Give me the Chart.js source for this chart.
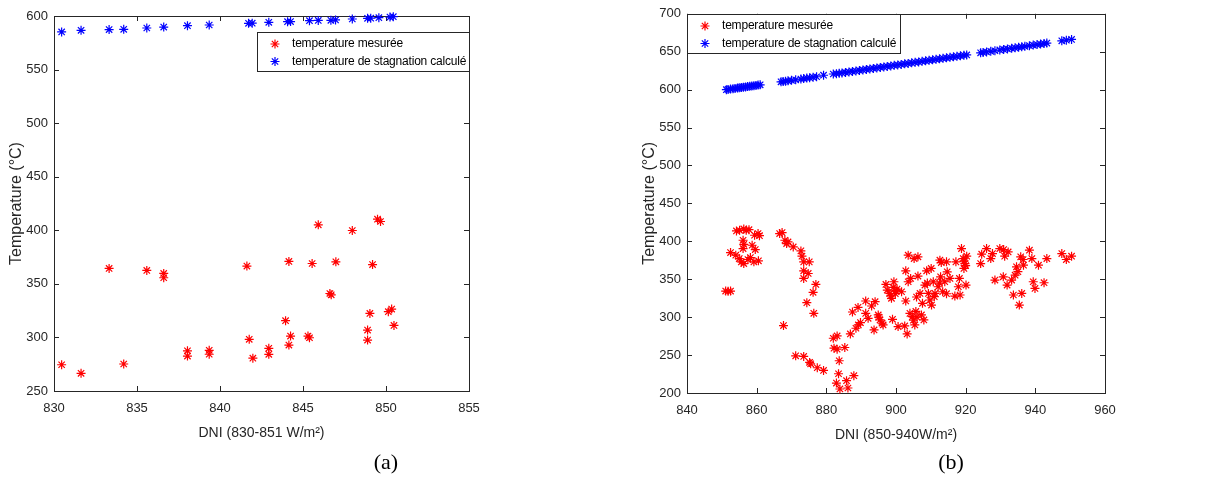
<!DOCTYPE html>
<html>
<head>
<meta charset="utf-8">
<script src="https://cdn.jsdelivr.net/npm/chart.js@4.4.1/dist/chart.umd.min.js"></script>
<style>
    body { margin: 0; background: #fff; width: 1206px; height: 504px; position: relative; overflow: hidden; }
    .panel { position: absolute; top: 0; }
    .caption { position: absolute; top: 449px; width: 60px; text-align: center; font-family: "Liberation Serif", "Times New Roman", serif; font-size: 22px; color: #000; }
</style>
</head>
<body>
<canvas id="chartA" class="panel" style="left:0px" width="600" height="450"></canvas>
<canvas id="chartB" class="panel" style="left:600px" width="606" height="450"></canvas>
<div class="caption" style="left:356px">(a)</div>
<div class="caption" style="left:921px">(b)</div>
<script>
// (a) DNI 830-851 : [DNI, temperature]
const measuredA = [
    [830.46, 274.5], [831.63, 266.5], [833.32, 364.4], [834.2, 275.2], [835.59, 362.5],
    [836.61, 359.7], [836.61, 355.7], [838.04, 287.5], [838.04, 282.6], [839.35, 288.0],
    [839.35, 284.3], [841.62, 366.6], [841.76, 298.2], [841.98, 280.6], [842.94, 289.8],
    [842.94, 284.2], [843.95, 315.6], [844.15, 370.9], [844.25, 301.3], [844.15, 292.9],
    [845.3, 301.3], [845.39, 299.7], [845.92, 405.1], [845.55, 369.0], [846.62, 341.0],
    [846.7, 339.8], [846.98, 370.6], [847.97, 399.8], [848.89, 306.9], [848.89, 297.5],
    [849.03, 322.4], [849.19, 368.0], [849.49, 410.4], [849.67, 408.2], [850.14, 324.0],
    [850.34, 326.5], [850.48, 311.2]
];
const stagnationA = [
    [830.46, 585.1], [831.63, 586.6], [833.32, 587.3], [834.2, 587.6], [835.59, 588.8],
    [836.61, 589.7], [838.04, 591.0], [839.35, 591.6], [841.72, 593.2], [841.94, 593.3],
    [842.94, 594.1], [844.07, 594.7], [844.25, 594.8], [845.39, 595.6], [845.92, 595.9],
    [846.68, 596.0], [846.96, 596.3], [847.97, 597.2], [848.89, 597.8], [849.08, 598.0],
    [849.57, 598.4], [850.24, 599.0], [850.44, 599.4]
];

// (b) DNI 850-940 : [DNI, temperature]
const measuredB = [
    [851.1, 334.4], [851.8, 334.0], [852.5, 334.4], [852.5, 385.2], [854.2, 413.7],
    [855.1, 414.5], [856.3, 416.3], [857.0, 414.5], [857.8, 415.4], [856.1, 401.4],
    [856.1, 390.4], [856.3, 396.0], [854.0, 381.7], [855.0, 377.3], [855.6, 372.9],
    [856.3, 370.7], [857.5, 376.0], [858.2, 378.6], [859.2, 372.9], [860.5, 374.3],
    [858.7, 394.8], [859.6, 389.1], [859.4, 408.0], [860.4, 410.2], [860.8, 407.5],
    [866.6, 410.2], [867.3, 411.5], [868.1, 401.4], [869.0, 399.2], [868.6, 397.0],
    [870.5, 392.6], [872.7, 387.4], [873.0, 380.4], [873.5, 372.9], [875.1, 372.9],
    [873.5, 361.1], [874.8, 357.6], [873.5, 351.1], [877.0, 343.2], [876.2, 332.7],
    [874.4, 319.1], [876.4, 305.1], [867.7, 288.9], [871.2, 249.0], [873.5, 248.2],
    [875.2, 240.3], [875.5, 238.5], [877.4, 233.3], [879.2, 229.8], [882.0, 272.2],
    [883.1, 275.3], [882.2, 259.1], [883.1, 257.8], [885.3, 260.0], [883.7, 242.5],
    [883.5, 225.4], [882.9, 213.1], [883.9, 205.3], [885.8, 216.2], [886.2, 206.6],
    [887.9, 222.8], [886.9, 277.9], [888.5, 285.4], [887.5, 306.8], [889.2, 289.8],
    [889.8, 292.8], [889.1, 312.9], [891.3, 321.3], [892.0, 298.5], [891.3, 305.0],
    [893.0, 314.7], [894.0, 320.4], [893.7, 283.2], [894.9, 302.9], [895.4, 296.3],
    [896.3, 289.8], [897.1, 343.2], [897.5, 335.7], [898.2, 331.3], [898.7, 324.8],
    [899.2, 339.2], [900.0, 334.9], [899.4, 346.7], [899.0, 297.2], [900.6, 287.6],
    [901.6, 333.5], [902.5, 288.4], [902.8, 361.1], [902.8, 321.3], [903.5, 381.7],
    [903.2, 277.9], [903.5, 346.7], [904.2, 351.1], [904.0, 305.0], [904.7, 300.7],
    [905.4, 289.8], [905.7, 307.6], [905.9, 326.6], [905.2, 377.3], [906.3, 379.5],
    [906.3, 354.2], [906.9, 331.3], [907.3, 302.9], [907.6, 318.2], [908.0, 296.3],
    [908.3, 342.3], [908.8, 361.1], [909.3, 331.3], [909.7, 322.6], [910.1, 364.2],
    [910.7, 346.7], [910.2, 316.0], [911.2, 331.3], [912.1, 340.1], [912.6, 375.1],
    [912.8, 353.2], [913.4, 333.5], [914.0, 346.7], [914.5, 372.9], [914.7, 359.8],
    [914.5, 330.9], [915.5, 351.1], [917.2, 372.9], [916.9, 327.8], [917.9, 340.1],
    [918.4, 329.2], [918.2, 351.1], [918.8, 390.4], [919.3, 377.3], [919.5, 364.2],
    [919.8, 370.7], [920.1, 342.3], [920.3, 380.4], [924.3, 370.7], [924.6, 383.0],
    [926.0, 390.4], [927.2, 377.3], [927.7, 383.9], [928.4, 348.9], [929.8, 390.4],
    [930.9, 389.1], [931.2, 380.4], [932.2, 386.0], [930.8, 353.2], [931.9, 342.3],
    [933.2, 348.9], [933.7, 329.2], [934.2, 355.4], [934.6, 366.4], [935.4, 316.0],
    [935.8, 379.5], [936.1, 331.3], [936.6, 368.5], [938.3, 388.3], [939.0, 377.3],
    [939.4, 346.7], [939.9, 337.9], [940.9, 368.5], [942.5, 345.4], [943.3, 377.3],
    [947.6, 383.9], [948.9, 376.0], [950.4, 380.4], [898.5, 328.0], [899.8, 331.0],
    [900.3, 337.0], [905.0, 296.0], [906.0, 300.0], [909.0, 345.0], [911.0, 327.0],
    [912.5, 345.0], [913.0, 372.0], [919.5, 374.0], [920.0, 368.0], [895.0, 300.0],
    [896.0, 292.0], [935.0, 360.0], [936.5, 376.0]
];
const stagnationB = [
    [851.3, 600.0], [851.8, 600.3], [852.5, 600.8], [853.2, 601.3], [853.8, 601.6],
    [854.5, 602.0], [855.0, 602.4], [855.6, 602.8], [856.2, 603.2], [856.8, 603.6],
    [857.4, 604.0], [858.0, 604.4], [858.6, 604.8], [859.2, 605.2], [859.8, 605.6],
    [860.4, 606.0], [861.0, 606.4],
    [867.0, 610.3], [867.6, 610.7], [868.3, 611.1], [869.0, 611.6], [870.0, 612.3],
    [871.2, 613.0], [872.7, 614.0], [873.5, 614.6], [874.4, 615.2], [875.2, 615.7],
    [876.2, 616.4], [877.2, 617.0], [879.2, 619.0],
    [882.0, 620.6], [882.9, 621.1], [883.7, 621.6], [884.5, 622.1], [885.5, 622.7],
    [886.5, 623.3], [887.5, 624.0], [888.5, 624.6], [889.5, 625.3], [890.5, 626.0],
    [891.5, 626.6], [892.5, 627.3], [893.5, 628.0], [894.5, 628.6], [895.5, 629.3],
    [896.5, 630.0], [897.5, 630.6], [898.5, 631.3], [899.5, 632.0], [900.5, 632.6],
    [901.5, 633.3], [902.5, 634.0], [903.5, 634.6], [904.5, 635.3], [905.5, 636.0],
    [906.5, 636.6], [907.5, 637.3], [908.5, 638.0], [909.5, 638.6], [910.5, 639.3],
    [911.5, 640.0], [912.5, 640.6], [913.5, 641.3], [914.5, 642.0], [915.5, 642.6],
    [916.5, 643.3], [917.5, 644.0], [918.5, 644.6], [919.5, 645.3], [920.3, 645.8],
    [924.3, 648.6], [925.0, 649.1], [926.0, 649.7], [927.2, 650.5], [928.4, 651.3],
    [929.8, 652.3], [930.9, 653.0], [932.0, 653.7], [933.2, 654.5], [934.2, 655.2],
    [935.2, 655.9], [936.1, 656.5], [937.0, 657.1], [938.3, 658.0], [939.4, 658.7],
    [940.5, 659.4], [941.5, 660.1], [942.5, 660.8], [943.3, 661.4], [947.6, 664.4],
    [948.9, 665.2], [950.4, 666.2]
];

const seriesLabels = ['temperature mesurée', 'temperature de stagnation calculé'];
const seriesColors = ['#ff0000', '#0000ff'];

const xTitleA = 'DNI (830-851 W/m²)';
const xTitleB = 'DNI (850-940W/m²)';
const yTitle = 'Temperature (°C)';

const axisColor = '#262626';
const tickFont = { family: 'Arial, "Liberation Sans", sans-serif', size: 13 };
const xTitleFont = { family: 'Arial, "Liberation Sans", sans-serif', size: 14 };
const yTitleFont = { family: 'Arial, "Liberation Sans", sans-serif', size: 16 };

// MATLAB style box: frame with inward ticks on all sides, plus boxed legend
const matlabBox =
{
    id: 'matlabBox',

    beforeDatasetsDraw(chart)
    {
        const { ctx, chartArea: { left, right, top, bottom }, scales: { x, y } } = chart;
        const len = 5;

        ctx.save();
        ctx.strokeStyle = axisColor;
        ctx.lineWidth = 1;
        ctx.strokeRect(Math.round(left) + 0.5, Math.round(top) + 0.5, Math.round(right - left), Math.round(bottom - top));

        ctx.beginPath();
        x.ticks.forEach(t =>
        {
            const px = Math.round(x.getPixelForValue(t.value)) + 0.5;
            ctx.moveTo(px, bottom); ctx.lineTo(px, bottom - len);
            ctx.moveTo(px, top); ctx.lineTo(px, top + len);
        });
        y.ticks.forEach(t =>
        {
            const py = Math.round(y.getPixelForValue(t.value)) + 0.5;
            ctx.moveTo(left, py); ctx.lineTo(left + len, py);
            ctx.moveTo(right, py); ctx.lineTo(right - len, py);
        });
        ctx.stroke();
        ctx.restore();
    },

    afterDraw(chart, args, opts)
    {
        const { ctx, chartArea } = chart;
        const w = opts.width, h = opts.height;
        const bx = opts.side === 'right' ? Math.round(chartArea.right) - w : Math.round(chartArea.left);
        const by = Math.round(chartArea.top) + opts.offsetY;

        ctx.save();
        ctx.fillStyle = '#fff';
        ctx.fillRect(bx + 0.5, by + 0.5, w, h);
        ctx.strokeStyle = axisColor;
        ctx.lineWidth = 1;
        ctx.strokeRect(bx + 0.5, by + 0.5, w, h);

        ctx.font = '12px Arial, "Liberation Sans", sans-serif';
        ctx.letterSpacing = '-0.2px';
        ctx.textBaseline = 'middle';
        chart.data.datasets.forEach((ds, i) =>
        {
            const ry = by + 12 + i * 17.5;
            ctx.strokeStyle = ds.borderColor;
            ctx.lineWidth = 1.2;
            Chart.helpers.drawPoint(ctx, { pointStyle: 'star', radius: 4.5, borderWidth: 1.2, rotation: 0 }, bx + 18, ry);
            ctx.fillStyle = '#000';
            ctx.fillText(ds.label, bx + 35, ry);
        });
        ctx.restore();
    }
};

function dataset(points, idx)
{
    return {
        label: seriesLabels[idx],
        data: points.map(p => ({ x: p[0], y: p[1] })),
        pointStyle: 'star',
        pointRadius: 4.5,
        borderWidth: 1.2,
        borderColor: seriesColors[idx],
        backgroundColor: seriesColors[idx],
        showLine: false,
        clip: false
    };
}

function makeChart(id, measured, stagnation, cfg)
{
    return new Chart(document.getElementById(id),
    {
        type: 'scatter',

        data:
        {
            datasets: [dataset(measured, 0), dataset(stagnation, 1)]
        },

        options:
        {
            responsive: false,
            animation: false,
            events: [],
            devicePixelRatio: 1,

            layout:
            {
                padding: { left: 0, top: cfg.top, right: cfg.right, bottom: 0 }
            },

            plugins:
            {
                legend: { display: false },
                tooltip: { enabled: false },
                matlabBox: cfg.legend
            },

            scales:
            {
                x:
                {
                    type: 'linear',
                    min: cfg.xMin,
                    max: cfg.xMax,
                    afterFit: s => { s.height = cfg.xHeight; },
                    grid: { display: false, drawTicks: false },
                    border: { display: false },
                    ticks: { stepSize: cfg.xStep, color: axisColor, font: tickFont, padding: 10, maxRotation: 0, autoSkip: false },
                    title: { display: true, text: cfg.xTitle, color: axisColor, font: xTitleFont, padding: { top: 0, bottom: cfg.xTitlePad } }
                },

                y:
                {
                    type: 'linear',
                    min: cfg.yMin,
                    max: cfg.yMax,
                    afterFit: s => { s.width = cfg.yWidth; },
                    grid: { display: false, drawTicks: false },
                    border: { display: false },
                    ticks: { stepSize: 50, color: axisColor, font: tickFont, padding: 6, autoSkip: false },
                    title: { display: true, text: yTitle, color: axisColor, font: yTitleFont, padding: { top: cfg.yTitlePad, bottom: 0 } }
                }
            }
        },

        plugins: [matlabBox]
    });
}

makeChart('chartA', measuredA, stagnationA,
{
    xMin: 830, xMax: 855, xStep: 5, yMin: 250, yMax: 600,
    top: 16, right: 131, xHeight: 59, yWidth: 54,
    xTitle: xTitleA, xTitlePad: 8.5, yTitlePad: 6.5,
    legend: { side: 'right', offsetY: 16, width: 212, height: 39 }
});

makeChart('chartB', measuredB, stagnationB,
{
    xMin: 840, xMax: 960, xStep: 20, yMin: 200, yMax: 700,
    top: 13, right: 101, xHeight: 57, yWidth: 87,
    xTitle: xTitleB, xTitlePad: 6.5, yTitlePad: 39.5,
    legend: { side: 'left', offsetY: 0, width: 213, height: 39 }
});
</script>
</body>
</html>
